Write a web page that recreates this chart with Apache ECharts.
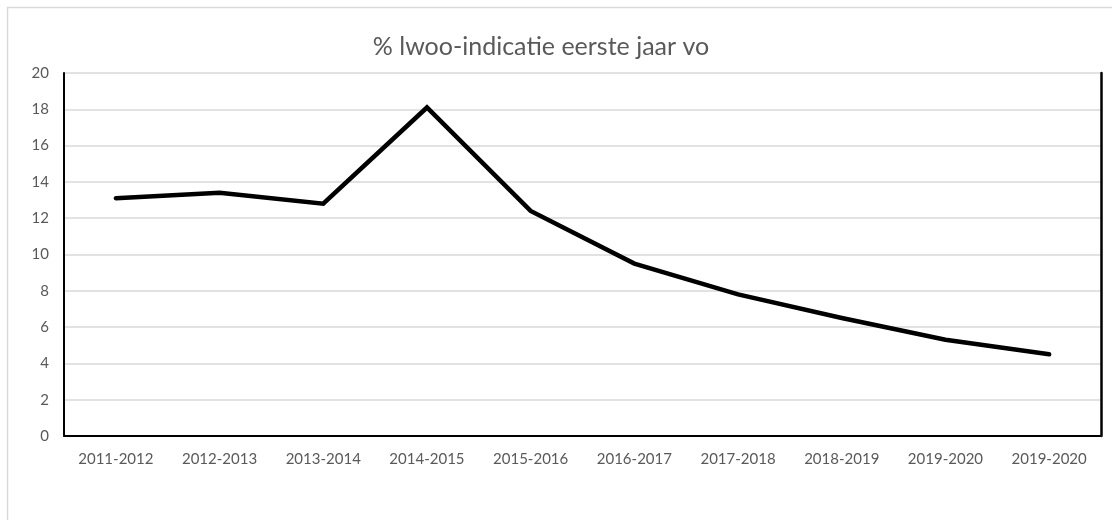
<!DOCTYPE html>
<html>
<head>
<meta charset="utf-8">
<script src="https://cdn.jsdelivr.net/npm/echarts@6/dist/echarts.min.js"></script>
<style>
html,body{margin:0;padding:0;background:#fff;}
#chart{width:1112px;height:520px;}
</style>
</head>
<body>
<div id="chart"></div>
<script>
const titleText = '% lwoo-indicatie eerste jaar vo';
const categories = ['2011-2012','2012-2013','2013-2014','2014-2015','2015-2016','2016-2017','2017-2018','2018-2019','2019-2020','2019-2020'];
const values = [13.1, 13.4, 12.8, 18.1, 12.4, 9.5, 7.8, 6.5, 5.3, 4.5];
const yMin = 0, yMax = 20, yStep = 2;

const chart = echarts.init(document.getElementById('chart'), null, {renderer:'canvas'});
const txt = '#595959';
const font = 'Lato';
chart.setOption({
  animation:false,
  backgroundColor:'#fff',
  title:{
    text:titleText, left:536, top:29, textAlign:'center',
    textStyle:{color:txt, fontFamily:font, fontWeight:'normal', fontSize:25}
  },
  graphic:[{
    type:'rect', silent:true, z:-1,
    shape:{x:7.5, y:7.5, width:1200, height:600},
    style:{fill:'none', stroke:'#d9d9d9', lineWidth:1.5}
  }],
  grid:{left:64, right:11, top:73, bottom:84},
  xAxis:[{
    type:'category', data:categories, position:'bottom',
    axisLine:{show:true, lineStyle:{color:'#d9d9d9', width:1.5}},
    axisTick:{show:false},
    axisLabel:{color:txt, fontFamily:font, fontSize:15, margin:16, interval:0}
  },{
    type:'category', data:categories, position:'top',
    axisLine:{show:true, lineStyle:{color:'#000', width:2}},
    axisTick:{show:false}, axisLabel:{show:false}
  }],
  yAxis:[{
    type:'value', min:yMin, max:yMax, interval:yStep, position:'left',
    axisLine:{show:true, lineStyle:{color:'#000', width:2}},
    axisTick:{show:false},
    splitLine:{show:true, lineStyle:{color:'#d9d9d9', width:1.5}},
    axisLabel:{color:txt, fontFamily:font, fontSize:15, margin:15}
  },{
    type:'value', min:yMin, max:yMax, interval:yStep, position:'right',
    axisLine:{show:true, lineStyle:{color:'#000', width:2.5}},
    axisTick:{show:false}, splitLine:{show:false}, axisLabel:{show:false}
  }],
  series:[{
    type:'line', data:values, xAxisIndex:0, yAxisIndex:0,
    symbol:'none', lineStyle:{color:'#000', width:4.5, cap:'round', join:'miter'},
    z:5
  }]
});
</script>
</body>
</html>
